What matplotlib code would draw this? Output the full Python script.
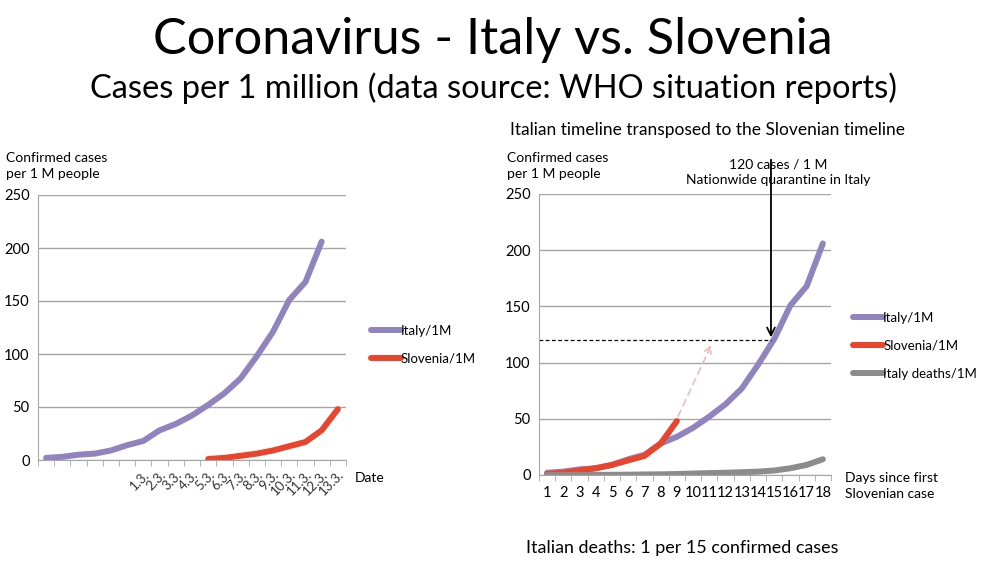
import numpy as np
import matplotlib.pyplot as plt

plt.rcParams['font.family'] = ['Lato', 'DejaVu Sans']

# data
left_dates = ['', '', '', '', '', '', '1.3.', '2.3.', '3.3.', '4.3.', '5.3.', '6.3.',
              '7.3.', '8.3.', '9.3.', '10.3.', '11.3.', '12.3.', '13.3.']
italy_per_1m = [2, 3, 5, 6, 9, 14, 18, 28, 34, 42, 52, 63, 77, 98, 121, 151, 168, 206]
slovenia_per_1m = [1, 2, 4, 6, 9, 13, 17, 28, 48]
slovenia_start = 10  # index of 5.3. in left_dates
italy_deaths_per_1m = [0.05, 0.05, 0.1, 0.1, 0.2, 0.3, 0.5, 0.6, 0.9, 1.3, 1.7, 2.0,
                       2.5, 3.0, 4.0, 6.0, 9.0, 14.0]
days = list(range(1, 19))
quarantine_level = 120
quarantine_day = 14.8

ITALY = '#9183be'
SLO = '#e8452c'
DEATHS = '#8c8c8c'
GRID = '#a6a6a6'
LW = 4.3

fig = plt.figure(figsize=(9.86, 5.65), dpi=100)
W, H = 986, 565


def fx(px):
    return px / W


def fy(py):
    return 1 - py / H


def style_axes(ax, n):
    ax.set_ylim(0, 250)
    ax.set_yticks([0, 50, 100, 150, 200, 250])
    ax.yaxis.grid(True, color=GRID, linewidth=1)
    ax.set_axisbelow(True)
    for s in ['top', 'right']:
        ax.spines[s].set_visible(False)
    ax.spines['left'].set_color(GRID)
    ax.spines['bottom'].set_color(GRID)
    ax.tick_params(axis='y', length=0, labelsize=10.5, pad=6)
    ax.set_xlim(0.5, n + 0.5)
    ax.set_xticks(np.arange(0.5, n + 1, 1), minor=True)
    ax.tick_params(axis='x', which='minor', length=4, color=GRID, direction='out')
    ax.tick_params(axis='x', which='major', length=0)


# ---- left chart: by date
ax1 = fig.add_axes([fx(38), fy(460), fx(308), (460 - 195) / H])
style_axes(ax1, len(left_dates))
x_left = np.arange(1, len(left_dates) + 1)
ax1.plot(x_left[:len(italy_per_1m)], italy_per_1m, color=ITALY, lw=LW,
         solid_capstyle='round', label='Italy/1M')
ax1.plot(x_left[slovenia_start:slovenia_start + len(slovenia_per_1m)], slovenia_per_1m,
         color=SLO, lw=LW, solid_capstyle='round', label='Slovenia/1M')
ax1.set_xticks(x_left)
ax1.set_xticklabels(left_dates, rotation=45, ha='right', rotation_mode='anchor',
                    fontsize=9.5, color='#333333')
ax1.tick_params(axis='x', which='major', pad=6)
ax1.legend(loc='center left', bbox_to_anchor=(1.08, 0.435), frameon=False,
           borderaxespad=0, borderpad=0,
           handlelength=2.3, handletextpad=0.0, fontsize=9.5, labelspacing=1.2)

# ---- right chart: days since first Slovenian case
ax2 = fig.add_axes([fx(539), fy(475), fx(292), (475 - 194) / H])
style_axes(ax2, len(days))
ax2.plot(days, italy_per_1m, color=ITALY, lw=LW, solid_capstyle='round', label='Italy/1M')
ax2.plot(days[:len(slovenia_per_1m)], slovenia_per_1m, color=SLO, lw=LW,
         solid_capstyle='round', label='Slovenia/1M')
ax2.plot(days, italy_deaths_per_1m, color=DEATHS, lw=LW, solid_capstyle='round',
         label='Italy deaths/1M')
ax2.set_xticks(days)
ax2.set_xticklabels([str(d) for d in days], fontsize=10.5)
ax2.tick_params(axis='x', which='major', pad=8)
ax2.legend(loc='center left', bbox_to_anchor=(1.075, 0.46), frameon=False,
           borderaxespad=0, borderpad=0,
           handlelength=2.3, handletextpad=0.0, fontsize=9.5, labelspacing=1.2)

# quarantine marker
ax2.plot([0.5, quarantine_day], [quarantine_level, quarantine_level], color='black',
         lw=0.9, ls=(0, (3, 2)))
ax2.annotate('', xy=(quarantine_day, quarantine_level), xytext=(quarantine_day, 283),
             arrowprops=dict(arrowstyle='->', color='black', lw=1.3, mutation_scale=14),
             annotation_clip=False)
# projected Slovenian trend
ax2.annotate('', xy=(11.2, 118), xytext=(9, 50),
             arrowprops=dict(arrowstyle='->', color='#e8bcbc', lw=1.2, ls=(0, (4, 3)),
                             mutation_scale=12))

# ---- texts
fig.text(0.5, fy(40), 'Coronavirus - Italy vs. Slovenia', ha='center', va='center',
         fontsize=36.4)
fig.text(0.5, fy(88), 'Cases per 1 million (data source: WHO situation reports)',
         ha='center', va='center', fontsize=23.5)
fig.text(fx(708), fy(130), 'Italian timeline transposed to the Slovenian timeline',
         ha='center', va='center', fontsize=12.5)
fig.text(fx(6), fy(166), 'Confirmed cases\nper 1 M people', ha='left', va='center',
         fontsize=10, linespacing=1.35)
fig.text(fx(507), fy(166), 'Confirmed cases\nper 1 M people', ha='left', va='center',
         fontsize=10, linespacing=1.35)
fig.text(fx(778), fy(172), '120 cases / 1 M\nNationwide quarantine in Italy',
         ha='center', va='center', fontsize=10, linespacing=1.35)
fig.text(fx(355), fy(478), 'Date', ha='left', va='center', fontsize=10)
fig.text(fx(845), fy(486), 'Days since first\nSlovenian case', ha='left', va='center',
         fontsize=10, linespacing=1.35)
fig.text(fx(682), fy(548), 'Italian deaths: 1 per 15 confirmed cases', ha='center',
         va='center', fontsize=12.9)

fig.savefig('out.png', dpi=100)
